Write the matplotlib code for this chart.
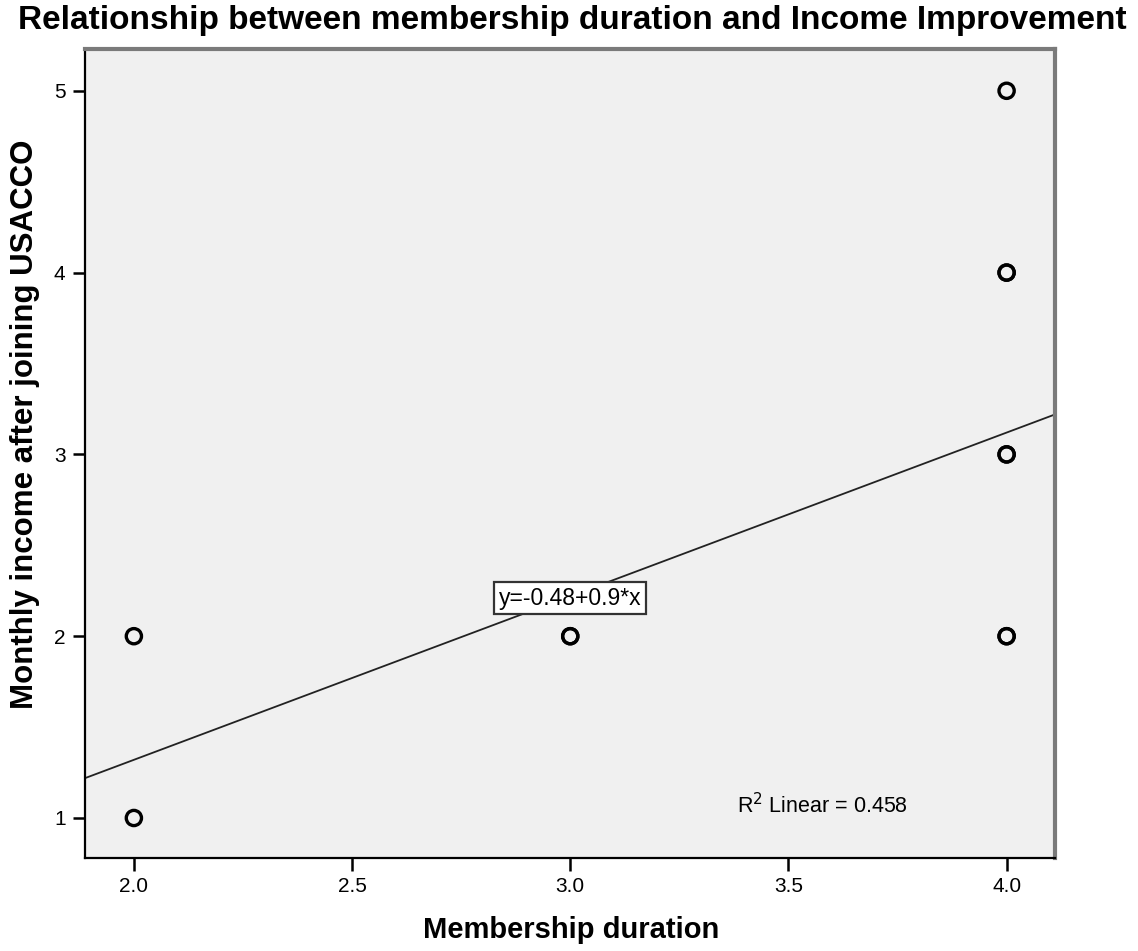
import numpy as np
import matplotlib.pyplot as plt

plt.rcParams['font.family'] = ['Liberation Sans', 'DejaVu Sans']

# membership duration vs monthly income (duplicates kept as observed)
duration = [2, 2, 3, 3, 4, 4, 4, 4, 4, 4, 4]
income = [1, 2, 2, 2, 2, 2, 3, 3, 4, 4, 5]
intercept, slope = -0.48, 0.9
r2 = 0.458

xticks = [2.0, 2.5, 3.0, 3.5, 4.0]
yticks = [1, 2, 3, 4, 5]

fig = plt.figure(figsize=(11.38, 9.51), dpi=100)
ax = fig.add_axes([0.0747, 0.0978, 0.8524, 0.8507])
ax.set_facecolor('#f0f0f0')

xmin, xmax = 1.888, 4.111
ymin, ymax = 0.78, 5.23
ax.set_xlim(xmin, xmax)
ax.set_ylim(ymin, ymax)

ax.scatter(duration, income, s=120, facecolors='none', edgecolors='black',
           linewidths=2.4, zorder=3)

xs = np.array([xmin, xmax])
ax.plot(xs, intercept + slope * xs, color='#222222', lw=1.3, zorder=2)

ax.text(3.0, 2.21, 'y=-0.48+0.9*x', ha='center', va='center', fontsize=16.5,
        bbox=dict(boxstyle='square,pad=0.2', fc='white', ec='#333333', lw=1.6))
ax.text(3.578, 1.066, r'R$^2$ Linear = %.3f' % r2, ha='center', va='center',
        fontsize=15.5)

ax.set_xticks(xticks)
ax.set_xticklabels(['%.1f' % t for t in xticks])
ax.set_yticks(yticks)
ax.tick_params(direction='out', length=9, width=1.8, labelsize=15, pad=5)

for s in ['left', 'bottom']:
    ax.spines[s].set_color('black')
    ax.spines[s].set_linewidth(1.6)
for s in ['top', 'right']:
    ax.spines[s].set_color('#7a7a7a')
    ax.spines[s].set_linewidth(3)

ax.set_xlabel('Membership duration', fontsize=21, fontweight='bold')
ax.xaxis.set_label_coords(0.501, -0.089)
ax.set_ylabel('Monthly income after joining USACCO', fontsize=22.5,
              fontweight='bold')
ax.yaxis.set_label_coords(-0.062, 0.536)
ax.xaxis.label.set_va('center')
ax.yaxis.label.set_va('center')
fig.text(572 / 1138, 1 - 21 / 951,
         'Relationship between membership duration and Income Improvement',
         ha='center', va='center', fontsize=24, fontweight='bold')

fig.savefig('out.png', dpi=100)
